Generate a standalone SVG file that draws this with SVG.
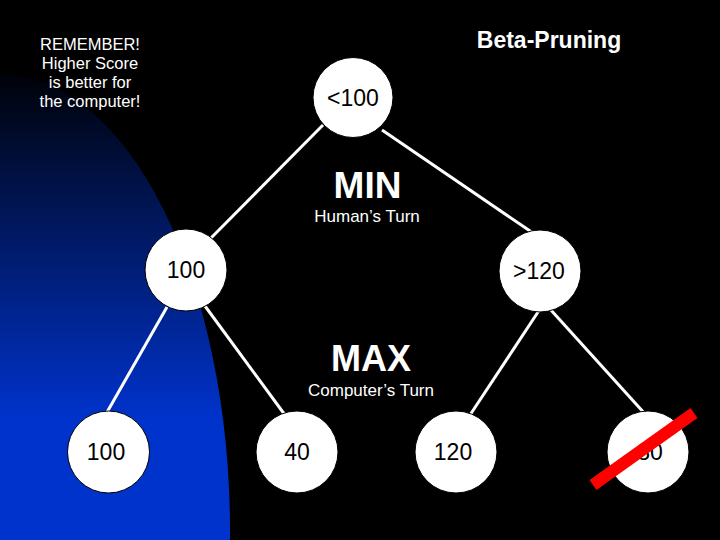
<svg xmlns="http://www.w3.org/2000/svg" width="720" height="540" viewBox="0 0 720 540">
<style>
text{font-family:"Liberation Sans",Arial,sans-serif;}
.lbl{fill:#fff;text-anchor:middle;}
.node circle{fill:#fff;stroke:#000;stroke-width:1;}
.node text{fill:#000;font-size:23px;text-anchor:middle;}
#connectors line{stroke:#fff;stroke-width:3;}
</style>
<defs>
<linearGradient id="bg" gradientUnits="userSpaceOnUse" x1="0" y1="60" x2="0" y2="420">
<stop offset="0" stop-color="#000000"/>
<stop offset="1" stop-color="#0033cc"/>
</linearGradient>
</defs>
<rect width="720" height="540" fill="#000"/>
<ellipse cx="0" cy="531" rx="230" ry="457" fill="url(#bg)"/>
<g id="connectors">
<line x1="323" y1="125" x2="211" y2="238"/>
<line x1="382" y1="130" x2="533" y2="233"/>
<line x1="167" y1="307" x2="106" y2="414"/>
<line x1="205" y1="306" x2="285" y2="415"/>
<line x1="540" y1="309" x2="470" y2="415"/>
<line x1="550" y1="309" x2="646" y2="415"/>
</g>
<g id="n-root" class="node"><circle cx="353" cy="97.5" r="40"/><text x="353" y="106">&lt;100</text></g>
<g id="n-min100" class="node"><circle cx="186" cy="270" r="41"/><text x="186" y="278">100</text></g>
<g id="n-min120" class="node"><circle cx="540" cy="271" r="41"/><text x="539" y="279">&gt;120</text></g>
<g id="n-l100" class="node"><circle cx="108.5" cy="452" r="41"/><text x="106" y="460">100</text></g>
<g id="n-l40" class="node"><circle cx="297" cy="452" r="41"/><text x="297" y="460">40</text></g>
<g id="n-l120" class="node"><circle cx="456" cy="452" r="41"/><text x="453" y="460">120</text></g>
<g id="n-l80" class="node"><circle cx="648" cy="452" r="41"/><text x="650" y="460">80</text></g>
<line x1="593" y1="485" x2="694" y2="413" stroke="#ff0000" stroke-width="12"/>
<text class="lbl" x="549" y="48" font-size="23" font-weight="bold">Beta-Pruning</text>
<g class="lbl" font-size="16.5">
<text x="90" y="50">REMEMBER!</text>
<text x="90" y="69">Higher Score</text>
<text x="90" y="88">is better for</text>
<text x="90" y="107">the computer!</text>
</g>
<text class="lbl" x="367.5" y="198" font-size="37" font-weight="bold">MIN</text>
<text class="lbl" x="367" y="222" font-size="17">Human’s Turn</text>
<text class="lbl" x="371" y="371" font-size="36" font-weight="bold">MAX</text>
<text class="lbl" x="371" y="396" font-size="17">Computer’s Turn</text>
</svg>
